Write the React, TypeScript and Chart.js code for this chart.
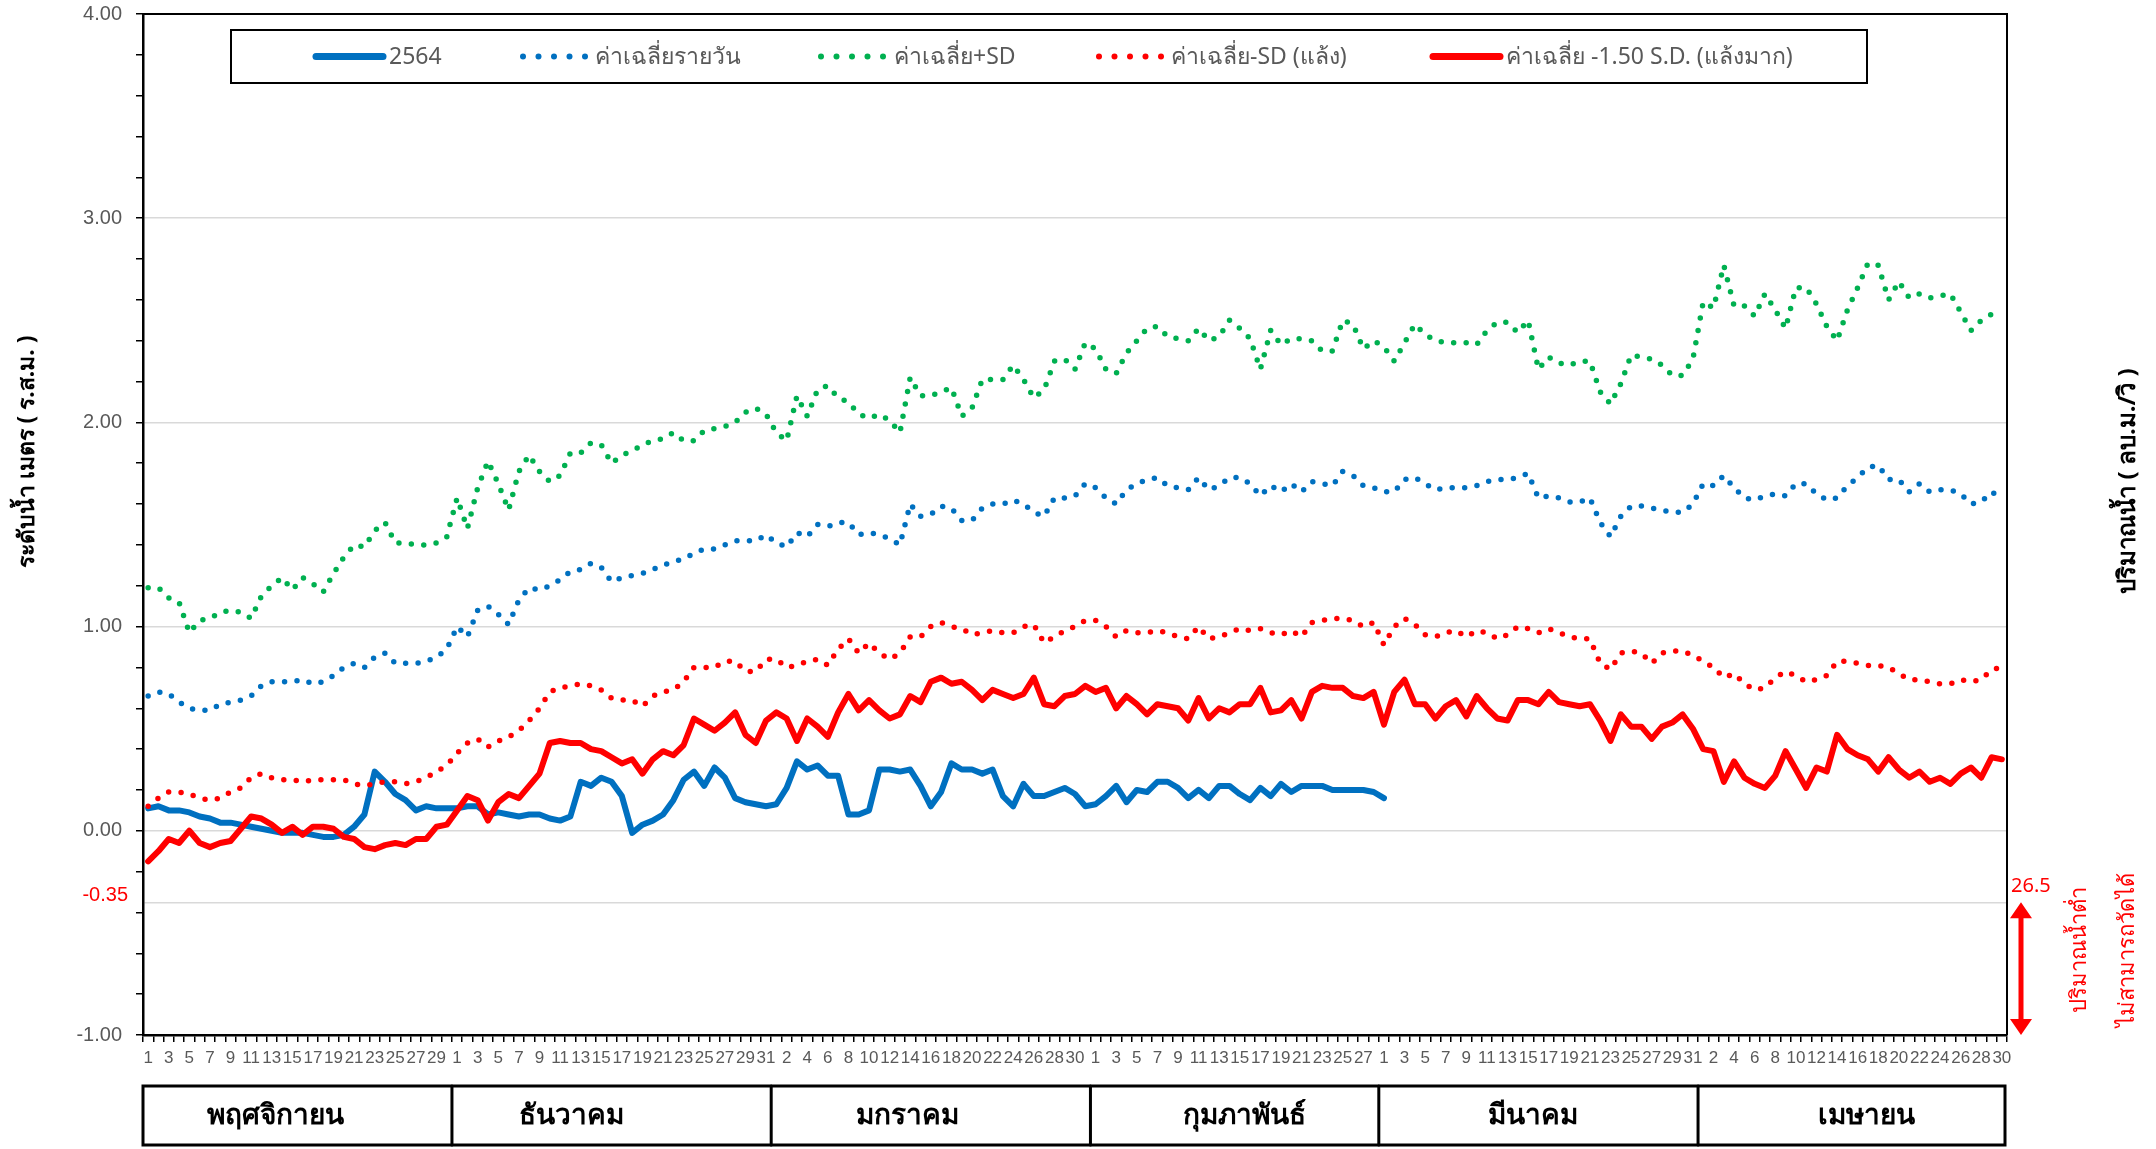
import React, { useEffect, useRef } from 'react';
import { Chart, registerables } from 'chart.js';

Chart.register(...registerables);

// ---------- categories ----------
const MONTHS = ['พฤศจิกายน', 'ธันวาคม', 'มกราคม', 'กุมภาพันธ์', 'มีนาคม', 'เมษายน'];
const MONTH_DAYS = [30, 31, 31, 28, 31, 30];
const DAY_LABELS: string[] = MONTH_DAYS.flatMap((n) => Array.from({ length: n }, (_, d) => String(d + 1)));

// ---------- series ----------
const LEVEL_2564 = [
  0.11, 0.12, 0.10, 0.10, 0.09, 0.07, 0.06, 0.04, 0.04, 0.03,
  0.02, 0.01, 0.00, -0.01, -0.01, -0.01, -0.02, -0.03, -0.03, -0.02,
  0.02, 0.08, 0.29, 0.24, 0.18, 0.15, 0.10, 0.12, 0.11, 0.11,
  0.11, 0.12, 0.12, 0.08, 0.09, 0.08, 0.07, 0.08, 0.08, 0.06,
  0.05, 0.07, 0.24, 0.22, 0.26, 0.24, 0.17, -0.01, 0.03, 0.05,
  0.08, 0.15, 0.25, 0.29, 0.22, 0.31, 0.26, 0.16, 0.14, 0.13,
  0.12, 0.13, 0.21, 0.34, 0.30, 0.32, 0.27, 0.27, 0.08, 0.08,
  0.10, 0.30, 0.30, 0.29, 0.30, 0.22, 0.12, 0.19, 0.33, 0.30,
  0.30, 0.28, 0.30, 0.17, 0.12, 0.23, 0.17, 0.17, 0.19, 0.21,
  0.18, 0.12, 0.13, 0.17, 0.22, 0.14, 0.20, 0.19, 0.24, 0.24,
  0.21, 0.16, 0.20, 0.16, 0.22, 0.22, 0.18, 0.15, 0.21, 0.17,
  0.23, 0.19, 0.22, 0.22, 0.22, 0.20, 0.20, 0.20, 0.20, 0.19,
  0.16,
];

const MEAN_DAILY = [
  0.66, 0.68, 0.67, 0.63, 0.60, 0.59, 0.59, 0.62, 0.63, 0.64,
  0.66, 0.71, 0.73, 0.73, 0.73, 0.74, 0.72, 0.73, 0.76, 0.80,
  0.82, 0.80, 0.85, 0.87, 0.82, 0.82, 0.82, 0.83, 0.85, 0.89,
  1.00, 0.95, 1.08, 1.10, 1.06, 1.01, 1.13, 1.19, 1.18, 1.20,
  1.23, 1.27, 1.28, 1.31, 1.29, 1.22, 1.24, 1.25, 1.26, 1.28,
  1.30, 1.32, 1.33, 1.36, 1.38, 1.38, 1.40, 1.42, 1.42, 1.42,
  1.45, 1.41, 1.39, 1.46, 1.44, 1.50, 1.49, 1.51, 1.51, 1.45,
  1.46, 1.45, 1.43, 1.40, 1.60, 1.54, 1.55, 1.59, 1.58, 1.52,
  1.52, 1.58, 1.60, 1.60, 1.62, 1.60, 1.56, 1.54, 1.63, 1.63,
  1.64, 1.70, 1.68, 1.63, 1.60, 1.67, 1.70, 1.72, 1.73, 1.69,
  1.68, 1.67, 1.73, 1.67, 1.69, 1.73, 1.73, 1.70, 1.64, 1.69,
  1.66, 1.70, 1.66, 1.71, 1.70, 1.69, 1.76, 1.74, 1.69, 1.68,
  1.66, 1.66, 1.72, 1.73, 1.70, 1.67, 1.68, 1.68, 1.68, 1.69,
  1.71, 1.72, 1.72, 1.73, 1.75, 1.63, 1.64, 1.63, 1.61, 1.61,
  1.63, 1.51, 1.44, 1.54, 1.59, 1.59, 1.58, 1.57, 1.56, 1.56,
  1.60, 1.70, 1.69, 1.74, 1.68, 1.63, 1.62, 1.64, 1.65, 1.64,
  1.70, 1.70, 1.65, 1.62, 1.63, 1.69, 1.73, 1.78, 1.79, 1.72,
  1.72, 1.66, 1.70, 1.66, 1.67, 1.67, 1.65, 1.60, 1.61, 1.66,
  1.63,
];

const MEAN_PLUS_SD = [
  1.19, 1.19, 1.14, 1.12, 0.97, 1.03, 1.04, 1.07, 1.08, 1.07,
  1.04, 1.15, 1.20, 1.24, 1.18, 1.24, 1.21, 1.17, 1.26, 1.34,
  1.40, 1.39, 1.47, 1.51, 1.41, 1.41, 1.40, 1.40, 1.41, 1.44,
  1.63, 1.48, 1.68, 1.81, 1.70, 1.57, 1.76, 1.84, 1.76, 1.71,
  1.74, 1.85, 1.85, 1.90, 1.89, 1.80, 1.84, 1.86, 1.89, 1.91,
  1.92, 1.95, 1.91, 1.91, 1.96, 1.97, 1.98, 2.00, 2.05, 2.07,
  2.04, 1.95, 1.91, 2.13, 2.03, 2.16, 2.18, 2.12, 2.10, 2.04,
  2.02, 2.04, 2.01, 1.95, 2.22, 2.13, 2.13, 2.15, 2.17, 2.03,
  2.07, 2.21, 2.21, 2.21, 2.28, 2.21, 2.12, 2.16, 2.30, 2.31,
  2.26, 2.39, 2.36, 2.26, 2.24, 2.34, 2.40, 2.46, 2.47, 2.42,
  2.41, 2.40, 2.46, 2.40, 2.42, 2.50, 2.46, 2.41, 2.26, 2.45,
  2.38, 2.41, 2.41, 2.40, 2.35, 2.35, 2.50, 2.48, 2.36, 2.40,
  2.37, 2.30, 2.39, 2.48, 2.43, 2.40, 2.39, 2.39, 2.39, 2.38,
  2.45, 2.49, 2.49, 2.44, 2.50, 2.26, 2.32, 2.29, 2.28, 2.30,
  2.30, 2.15, 2.09, 2.19, 2.33, 2.32, 2.31, 2.28, 2.23, 2.23,
  2.31, 2.59, 2.56, 2.77, 2.57, 2.57, 2.52, 2.63, 2.55, 2.46,
  2.66, 2.66, 2.58, 2.47, 2.40, 2.55, 2.66, 2.78, 2.77, 2.60,
  2.69, 2.61, 2.63, 2.61, 2.62, 2.63, 2.54, 2.45, 2.50, 2.53,
  2.53,
];

const MEAN_MINUS_SD = [
  0.12, 0.16, 0.19, 0.19, 0.18, 0.16, 0.15, 0.16, 0.19, 0.21,
  0.26, 0.28, 0.26, 0.25, 0.25, 0.24, 0.25, 0.25, 0.25, 0.25,
  0.23, 0.22, 0.23, 0.24, 0.24, 0.23, 0.24, 0.26, 0.29, 0.32,
  0.38, 0.43, 0.45, 0.41, 0.44, 0.46, 0.49, 0.54, 0.60, 0.68,
  0.70, 0.71, 0.72, 0.71, 0.69, 0.65, 0.64, 0.64, 0.61, 0.66,
  0.68, 0.69, 0.73, 0.80, 0.80, 0.80, 0.83, 0.83, 0.78, 0.78,
  0.84, 0.84, 0.80, 0.81, 0.83, 0.84, 0.81, 0.89, 0.94, 0.87,
  0.92, 0.87, 0.84, 0.87, 0.95, 0.95, 1.00, 1.02, 1.00, 0.99,
  0.96, 0.97, 0.98, 0.97, 0.97, 1.00, 1.01, 0.92, 0.95, 0.98,
  1.00, 1.03, 1.03, 1.00, 0.95, 0.98, 0.97, 0.97, 0.98, 0.97,
  0.95, 0.94, 1.00, 0.94, 0.95, 0.97, 0.99, 0.98, 0.99, 0.97,
  0.96, 0.98, 0.95, 1.02, 1.03, 1.04, 1.04, 1.03, 1.00, 1.02,
  0.91, 1.00, 1.04, 1.01, 0.96, 0.95, 0.97, 0.98, 0.95, 0.98,
  0.97, 0.94, 0.96, 1.00, 0.99, 0.97, 0.99, 0.97, 0.95, 0.94,
  0.94, 0.82, 0.79, 0.87, 0.88, 0.87, 0.82, 0.87, 0.88, 0.88,
  0.86, 0.83, 0.80, 0.75, 0.77, 0.72, 0.69, 0.70, 0.75, 0.78,
  0.76, 0.73, 0.74, 0.76, 0.83, 0.83, 0.82, 0.81, 0.81, 0.80,
  0.77, 0.74, 0.74, 0.73, 0.72, 0.72, 0.74, 0.73, 0.74, 0.79,
  0.80,
];

const MEAN_MINUS_150SD = [
  -0.15, -0.10, -0.04, -0.06, 0.00, -0.06, -0.08, -0.06, -0.05, 0.01,
  0.07, 0.06, 0.03, -0.01, 0.02, -0.02, 0.02, 0.02, 0.01, -0.03,
  -0.04, -0.08, -0.09, -0.07, -0.06, -0.07, -0.04, -0.04, 0.02, 0.03,
  0.10, 0.17, 0.15, 0.05, 0.14, 0.18, 0.16, 0.22, 0.28, 0.43,
  0.44, 0.43, 0.43, 0.40, 0.39, 0.36, 0.33, 0.35, 0.28, 0.35,
  0.39, 0.37, 0.42, 0.55, 0.52, 0.49, 0.53, 0.58, 0.47, 0.43,
  0.54, 0.58, 0.55, 0.44, 0.55, 0.51, 0.46, 0.58, 0.67, 0.59,
  0.64, 0.59, 0.55, 0.57, 0.66, 0.63, 0.73, 0.75, 0.72, 0.73,
  0.69, 0.64, 0.69, 0.67, 0.65, 0.67, 0.75, 0.62, 0.61, 0.66,
  0.67, 0.71, 0.68, 0.70, 0.60, 0.66, 0.62, 0.57, 0.62, 0.61,
  0.60, 0.54, 0.65, 0.55, 0.60, 0.58, 0.62, 0.62, 0.70, 0.58,
  0.59, 0.64, 0.55, 0.68, 0.71, 0.70, 0.70, 0.66, 0.65, 0.68,
  0.52, 0.68, 0.74, 0.62, 0.62, 0.55, 0.61, 0.64, 0.56, 0.66,
  0.60, 0.55, 0.54, 0.64, 0.64, 0.62, 0.68, 0.63, 0.62, 0.61,
  0.62, 0.54, 0.44, 0.57, 0.51, 0.51, 0.45, 0.51, 0.53, 0.57,
  0.50, 0.40, 0.39, 0.24, 0.34, 0.26, 0.23, 0.21, 0.27, 0.39,
  0.30, 0.21, 0.31, 0.29, 0.47, 0.40, 0.37, 0.35, 0.29, 0.36,
  0.30, 0.26, 0.29, 0.24, 0.26, 0.23, 0.28, 0.31, 0.26, 0.36,
  0.35,
];

// ---------- axis / annotation values ----------
const Y_MIN = -1;
const Y_MAX = 4;
const Y_MINOR_TICKS = [-1, -0.8, -0.6, -0.4, -0.2, 0, 0.2, 0.4, 0.6, 0.8, 1, 1.2, 1.4, 1.6, 1.8, 2, 2.2, 2.4, 2.6, 2.8, 3, 3.2, 3.4, 3.6, 3.8, 4];
const LOW_LEVEL = -0.35;
const LOW_FLOW_LABEL = '26.5';
const LEFT_TITLE = 'ระดับน้ำ เมตร ( ร.ส.ม. )';
const RIGHT_TITLE = 'ปริมาณน้ำ ( ลบ.ม./วิ )';
const LOW_NOTE = ['ปริมาณน้ำต่ำ', 'ไม่สามารถวัดได้'];

// ---------- styling / layout ----------
const FONT = '"Noto Sans", "Liberation Sans", "DejaVu Sans", sans-serif';
const NUM_FONT = '"Liberation Sans", sans-serif';
const BLUE = '#0070C0';
const GREEN = '#00B050';
const RED = '#FF0000';
const GRAY_TEXT = '#595959';
const MONTH_LABEL_SHIFT = [-22, -40, -23, 10, -5, 15];

const Y_TICKS = [...Y_MINOR_TICKS, LOW_LEVEL].sort((a, b) => a - b);
const isMajor = (v: number) => Math.abs(v - Math.round(v)) < 1e-6;
const isLow = (v: number) => Math.abs(v - LOW_LEVEL) < 1e-6;

const extrasPlugin = {
  id: 'extras',
  afterDraw(chart: any) {
    const { ctx, chartArea: a, scales } = chart;
    const xs = scales.x;
    const ys = scales.y;
    ctx.save();

    // frame top & right
    ctx.strokeStyle = '#000';
    ctx.lineWidth = 2;
    ctx.beginPath();
    ctx.moveTo(a.left, a.top);
    ctx.lineTo(a.right, a.top);
    ctx.lineTo(a.right, a.bottom);
    ctx.stroke();

    // -0.35 label (sits slightly above its grid line)
    const yLow = ys.getPixelForValue(LOW_LEVEL);
    ctx.font = `20px ${NUM_FONT}`;
    ctx.fillStyle = RED;
    ctx.textAlign = 'right';
    ctx.textBaseline = 'middle';
    ctx.fillText(LOW_LEVEL.toFixed(2), a.left - 15, yLow - 7);

    // ----- legend -----
    const lx0 = 231, ly0 = 30, lx1 = 1867, ly1 = 83;
    const lcy = (ly0 + ly1) / 2;
    ctx.fillStyle = '#fff';
    ctx.fillRect(lx0, ly0, lx1 - lx0, ly1 - ly0);
    ctx.strokeStyle = '#000';
    ctx.lineWidth = 2;
    ctx.strokeRect(lx0, ly0, lx1 - lx0, ly1 - ly0);
    const ds = chart.data.datasets;
    const items = [
      { d: ds[0], x: 313, type: 'line', tx: 389 },
      { d: ds[1], x: 520, type: 'dots', tx: 595 },
      { d: ds[2], x: 818, type: 'dots', tx: 894 },
      { d: ds[3], x: 1096, type: 'dots', tx: 1171 },
      { d: ds[4], x: 1430, type: 'line', tx: 1506 },
    ];
    ctx.textBaseline = 'middle';
    ctx.textAlign = 'left';
    ctx.font = `23px ${FONT}`;
    for (const it of items) {
      ctx.strokeStyle = it.d.borderColor;
      ctx.fillStyle = it.d.borderColor;
      if (it.type === 'line') {
        ctx.lineWidth = 7;
        ctx.lineCap = 'round';
        ctx.beginPath();
        ctx.moveTo(it.x + 3, lcy);
        ctx.lineTo(it.x + 70, lcy);
        ctx.stroke();
      } else {
        for (let k = 0; k < 5; k++) {
          ctx.beginPath();
          ctx.arc(it.x + 3 + k * 15.5, lcy, 3, 0, Math.PI * 2);
          ctx.fill();
        }
      }
      ctx.fillStyle = GRAY_TEXT;
      ctx.fillText(it.d.label, it.tx, lcy + 1);
    }

    // ----- rotated titles -----
    const rot = (text: string, x: number, y: number, font: string, color: string) => {
      ctx.save();
      ctx.translate(x, y);
      ctx.rotate(-Math.PI / 2);
      ctx.font = font;
      ctx.fillStyle = color;
      ctx.textAlign = 'center';
      ctx.textBaseline = 'middle';
      ctx.fillText(text, 0, 0);
      ctx.restore();
    };
    rot(LEFT_TITLE, 27, 452, `bold 23px ${FONT}`, '#000');
    rot(RIGHT_TITLE, 2128, 481, `bold 24px ${FONT}`, '#000');

    // ----- low-flow annotation -----
    const yBot = ys.getPixelForValue(Y_MIN);
    ctx.fillStyle = RED;
    ctx.font = `20px ${FONT}`;
    ctx.textAlign = 'left';
    ctx.textBaseline = 'alphabetic';
    ctx.fillText(LOW_FLOW_LABEL, a.right + 4, yLow - 10);
    const ax = a.right + 14, hw = 11, hl = 16, sw = 2.5;
    ctx.beginPath();
    ctx.moveTo(ax, yLow);
    ctx.lineTo(ax + hw, yLow + hl);
    ctx.lineTo(ax + sw, yLow + hl);
    ctx.lineTo(ax + sw, yBot - hl);
    ctx.lineTo(ax + hw, yBot - hl);
    ctx.lineTo(ax, yBot);
    ctx.lineTo(ax - hw, yBot - hl);
    ctx.lineTo(ax - sw, yBot - hl);
    ctx.lineTo(ax - sw, yLow + hl);
    ctx.lineTo(ax - hw, yLow + hl);
    ctx.closePath();
    ctx.fill();
    rot(LOW_NOTE[0], 2080, 950, `22px ${FONT}`, RED);
    rot(LOW_NOTE[1], 2128, 950, `22px ${FONT}`, RED);

    // ----- month table -----
    const bw = xs.getPixelForValue(1) - xs.getPixelForValue(0);
    const ty0 = 1086, ty1 = 1145;
    ctx.strokeStyle = '#000';
    ctx.lineWidth = 3;
    ctx.strokeRect(a.left, ty0, a.right - a.left - 2, ty1 - ty0);
    let start = 0;
    ctx.font = `bold 28px ${FONT}`;
    ctx.fillStyle = '#000';
    ctx.textAlign = 'center';
    ctx.textBaseline = 'middle';
    MONTHS.forEach((m, mi) => {
      const x0 = xs.getPixelForValue(start) - bw / 2;
      const end = start + MONTH_DAYS[mi];
      const x1 = mi === MONTHS.length - 1 ? a.right - 2 : xs.getPixelForValue(end) - bw / 2;
      if (mi > 0) {
        ctx.beginPath();
        ctx.moveTo(x0, ty0);
        ctx.lineTo(x0, ty1);
        ctx.stroke();
      }
      ctx.fillText(m, (x0 + x1) / 2 + MONTH_LABEL_SHIFT[mi], (ty0 + ty1) / 2 + 1);
      start = end;
    });

    ctx.restore();
  },
};

export default function App() {
  const ref = useRef<HTMLCanvasElement | null>(null);
  useEffect(() => {
    if (!ref.current) return;
    Chart.defaults.font.family = FONT;
    const dotted = (color: string) => ({
      borderColor: color,
      borderWidth: 5.5,
      borderDash: [0, 12.5],
      borderCapStyle: 'round' as const,
      borderJoinStyle: 'round' as const,
    });
    const chart = new Chart(ref.current, {
      type: 'line',
      data: {
        labels: DAY_LABELS,
        datasets: [
          { label: '2564', data: LEVEL_2564, borderColor: BLUE, borderWidth: 6, borderCapStyle: 'round', borderJoinStyle: 'round', order: 4 },
          { label: 'ค่าเฉลี่ยรายวัน', data: MEAN_DAILY, ...dotted(BLUE), order: 3 },
          { label: 'ค่าเฉลี่ย+SD', data: MEAN_PLUS_SD, ...dotted(GREEN), order: 2 },
          { label: 'ค่าเฉลี่ย-SD (แล้ง)', data: MEAN_MINUS_SD, ...dotted(RED), order: 1 },
          { label: 'ค่าเฉลี่ย -1.50 S.D. (แล้งมาก)', data: MEAN_MINUS_150SD, borderColor: RED, borderWidth: 6, borderCapStyle: 'round', borderJoinStyle: 'round', order: 0 },
        ],
      } as any,
      options: {
        animation: false,
        responsive: false,
        events: [],
        elements: { point: { radius: 0 }, line: { tension: 0, fill: false } },
        layout: { padding: { left: 0, right: 149, top: 14, bottom: 0 } },
        plugins: { legend: { display: false }, tooltip: { enabled: false } },
        scales: {
          x: {
            type: 'category',
            offset: true,
            afterFit: (s: any) => { s.height = 114; },
            ticks: {
              autoSkip: false,
              maxRotation: 0,
              minRotation: 0,
              padding: 6,
              color: GRAY_TEXT,
              font: { size: 17, family: NUM_FONT },
              callback: (_v: any, i: number) => (i % 2 === 0 ? DAY_LABELS[i] : ''),
            },
            grid: { drawOnChartArea: false, offset: true, tickLength: 7, color: '#000', tickColor: '#000', lineWidth: 1.5 },
            border: { display: true, color: '#000', width: 2.5 },
          },
          y: {
            min: Y_MIN,
            max: Y_MAX,
            afterBuildTicks: (s: any) => { s.ticks = Y_TICKS.map((v) => ({ value: v })); },
            afterFit: (s: any) => { s.width = 143; s.paddingTop = 0; s.paddingBottom = 0; },
            ticks: {
              autoSkip: false,
              padding: 14,
              font: { size: 20, family: NUM_FONT },
              color: GRAY_TEXT,
              callback: (v: any) => {
                const n = Number(v);
                if (isLow(n)) return '';
                return isMajor(n) ? n.toFixed(2) : '';
              },
            },
            grid: {
              lineWidth: 1.5,
              tickLength: 7,
              color: (c: any) => {
                const v = c.tick ? c.tick.value : 0;
                if (isLow(v)) return '#D9D9D9';
                if (isMajor(v) && v > Y_MIN && v < Y_MAX) return '#D9D9D9';
                return 'rgba(0,0,0,0)';
              },
              tickColor: (c: any) => {
                const v = c.tick ? c.tick.value : 0;
                return isLow(v) ? 'rgba(0,0,0,0)' : '#000';
              },
            },
            border: { display: true, color: '#000', width: 2.5 },
          },
        },
      } as any,
      plugins: [extrasPlugin],
    });
    return () => chart.destroy();
  }, []);

  return (
    <div style={{ position: 'fixed', left: 0, top: 0, width: 2156, height: 1149, background: '#fff' }}>
      <canvas ref={ref} width={2156} height={1149} style={{ display: 'block' }} />
    </div>
  );
}
